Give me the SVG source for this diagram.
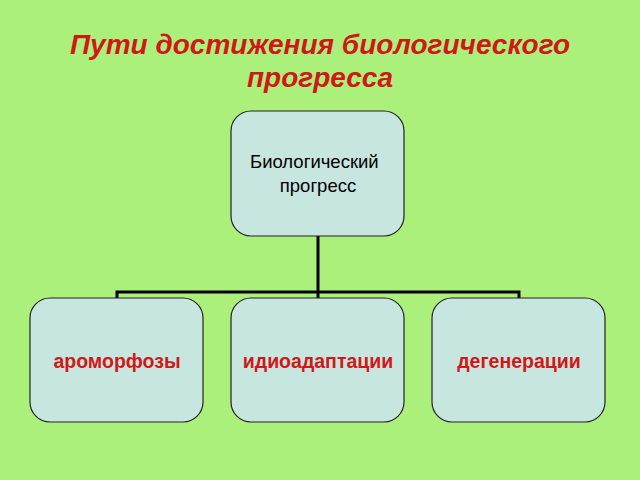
<svg xmlns="http://www.w3.org/2000/svg" width="640" height="480" viewBox="0 0 640 480">
<style>
.box{fill:#c8e6e0;stroke:#222;stroke-width:1.2}
.t{font-family:"Liberation Sans",Arial,sans-serif}
.lbl{font-family:"Liberation Sans",Arial,sans-serif;font-size:19.5px;font-weight:bold;fill:#d01818;text-anchor:middle}
</style>
<rect width="640" height="480" fill="#acf07c"/>
<g id="title" class="t" font-size="28" font-weight="bold" font-style="italic" fill="#d01818" text-anchor="middle">
<text x="320" y="54">Пути достижения биологического</text>
<text x="320" y="87">прогресса</text>
</g>
<g id="connectors" stroke="#000" stroke-width="3" fill="none">
<path d="M318 236V292M117 298V292H519V298M318 292V298"/>
</g>
<g id="root"><rect class="box" x="231" y="111" width="173" height="125" rx="20"/>
<text class="t" font-size="18.5" x="250" y="168">Биологический</text>
<text class="t" font-size="18.5" x="318" y="192" text-anchor="middle">прогресс</text></g>
<g id="n1"><rect class="box" x="30" y="298" width="173" height="124" rx="20"/><text class="lbl" x="117" y="368">ароморфозы</text></g>
<g id="n2"><rect class="box" x="231" y="298" width="173" height="124" rx="20"/><text class="lbl" x="318" y="368">идиоадаптации</text></g>
<g id="n3"><rect class="box" x="432" y="298" width="173" height="124" rx="20"/><text class="lbl" x="519" y="368">дегенерации</text></g>
</svg>
